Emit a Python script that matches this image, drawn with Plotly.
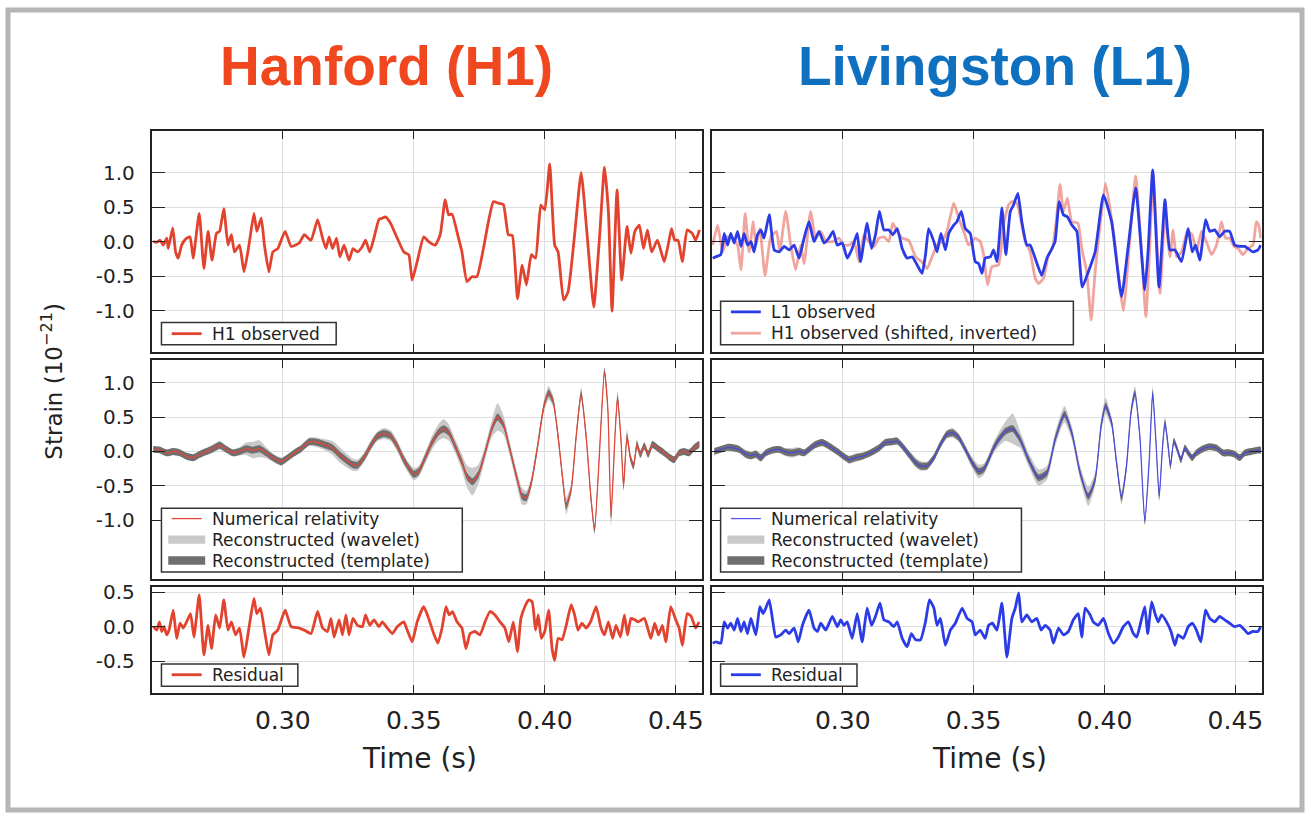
import plotly.graph_objects as go

# ------------------------------------------------------------------ data (time in ms, strain in 1e-21)
h1_obs_t = [250.6,251.9,253.2,254.4,255.7,256.3,258.0,259.1,260.1,261.4,263.0,264.6,265.8,268.1,269.9,271.5,273.0,274.7,275.9,277.5,
            279.1,280.4,281.6,283.5,285.2,287.1,289.0,290.1,291.8,293.0,294.7,296.2,298.1,300.9,303.2,306.3,308.2,310.8,313.3,315.2,
            316.5,317.7,319.0,320.5,321.8,323.4,325.3,326.8,328.5,330.4,331.6,333.2,334.8,336.7,338.0,339.2,341.1,343.7,346.2,348.1,
            349.4,351.3,353.8,355.7,358.2,360.1,362.0,363.3,364.6,367.1,368.4,370.3,372.2,374.1,376.6,378.5,380.4,382.3,384.2,386.1,
            387.6,389.6,391.4,393.0,394.9,396.5,398.5,400.0,401.9,403.8,405.1,407.2,408.9,411.4,413.9,416.5,418.7,420.9,422.8,424.3,
            425.7,427.6,429.4,431.4,432.9,434.4,436.1,437.7,439.2,440.8,443.0,445.6,447.1,448.4,449.6,450.9,452.5,454.4,456.3,457.6,459.1]
h1_obs = [0.00,-0.01,0.02,-0.05,0.05,-0.10,0.20,-0.15,-0.24,-0.05,0.04,0.07,-0.24,0.41,-0.39,0.15,-0.27,0.12,0.15,0.48,
          -0.05,0.10,-0.15,-0.05,-0.44,-0.05,0.41,0.15,0.34,-0.05,-0.44,-0.15,-0.10,0.15,-0.07,-0.02,0.10,0.02,0.32,0.05,
          -0.10,0.07,-0.10,0.05,-0.22,-0.05,-0.27,-0.10,-0.15,-0.07,0.02,-0.15,0.05,0.32,0.34,0.36,0.27,0.05,-0.15,-0.19,
          -0.56,-0.29,0.07,0.00,-0.05,0.10,0.61,0.39,0.40,0.05,-0.15,-0.58,-0.51,-0.51,-0.10,0.29,0.58,0.56,0.54,0.10,
          0.09,-0.83,-0.34,-0.63,-0.19,-0.24,0.53,0.46,1.13,-0.05,-0.15,-0.85,-0.73,0.10,1.00,-0.05,-0.95,0.05,1.08,0.44,
          -1.01,0.75,-0.56,0.22,-0.17,0.15,0.24,-0.10,0.17,-0.15,0.02,-0.29,-0.05,0.19,0.02,0.02,-0.29,0.17,0.12,0.02,0.17]

l1_obs_t = [250.3,251.5,253.4,254.7,256.0,257.2,258.5,259.8,261.1,262.3,263.6,264.9,266.1,267.4,268.7,269.9,271.9,273.8,275.7,277.6,
            279.5,281.4,283.3,285.2,287.1,289.0,290.9,292.8,294.7,296.3,297.9,299.8,301.7,303.6,305.5,306.8,309.3,311.0,312.5,314.0,
            315.7,317.6,319.1,320.8,322.7,324.6,326.5,328.4,330.3,331.6,332.8,334.8,336.0,337.5,339.2,340.5,342.4,343.6,345.3,346.8,
            348.7,350.6,351.9,353.2,354.4,356.4,357.6,358.9,360.8,362.3,364.0,365.2,366.9,368.4,370.3,371.6,373.5,376.0,378.0,379.9,
            381.1,382.7,384.3,385.8,387.5,389.4,391.5,393.8,396.4,399.6,402.7,406.5,409.1,411.9,415.4,416.7,418.4,420.8,423.1,425.0,
            426.9,429.4,432.0,433.5,434.8,436.4,438.6,440.2,442.1,444.0,445.9,447.8,449.7,451.7,453.6,454.8,456.7,458.6,459.7]
l1_obs = [-0.24,-0.22,-0.19,0.12,-0.05,0.12,-0.02,0.15,-0.07,0.12,-0.05,0.00,-0.15,0.10,0.17,0.05,0.39,-0.12,-0.15,-0.07,
          -0.12,-0.05,-0.24,0.05,0.29,0.00,0.15,-0.02,0.05,0.15,-0.05,-0.02,-0.24,-0.10,0.12,-0.29,0.27,-0.10,0.10,0.44,
          0.17,0.17,0.10,0.19,-0.10,-0.24,-0.22,-0.34,-0.46,-0.19,0.19,0.00,-0.15,0.12,-0.12,0.12,0.24,0.29,0.44,0.19,
          0.12,-0.29,-0.32,-0.46,-0.24,-0.22,-0.12,-0.29,0.49,-0.19,0.44,0.53,0.70,0.29,-0.05,-0.05,-0.24,-0.49,-0.24,-0.10,
          0.00,0.58,0.39,0.36,0.24,0.15,-0.66,-0.44,-0.15,0.68,0.29,-0.80,-0.05,0.78,-0.70,-0.10,1.04,-0.66,0.61,-0.12,
          -0.12,-0.29,0.19,-0.15,-0.05,-0.27,0.32,0.15,0.17,0.07,0.15,0.15,-0.05,-0.07,-0.07,-0.10,-0.15,-0.12,-0.05]

h1_shift_t = [250.3,252.2,254.1,256.0,257.9,259.8,261.1,262.7,264.2,265.8,266.8,268.3,270.3,272.5,274.7,275.9,278.2,280.1,282.0,283.9,
              285.2,287.7,289.6,291.6,293.5,296.0,298.5,300.4,302.4,304.3,306.2,308.1,310.0,311.9,313.8,315.7,317.6,319.1,320.8,322.7,
              325.2,327.8,330.1,332.2,334.1,336.0,337.9,339.8,342.4,344.3,346.2,348.1,350.6,352.5,353.8,355.3,357.0,359.5,361.4,363.3,
              364.6,366.5,368.4,369.7,371.6,373.5,374.8,376.7,378.6,380.1,381.8,383.0,384.3,385.8,387.5,389.8,391.3,393.2,394.9,396.4,
              398.3,400.4,403.4,407.2,409.7,411.9,414.2,415.8,417.3,418.6,421.2,423.1,425.0,426.2,427.5,429.4,431.7,433.5,435.1,437.0,
              438.9,440.9,442.8,444.7,446.2,447.8,449.5,451.0,452.9,454.8,456.7,458.0,458.9,459.7]
h1_shift = [-0.05,0.24,-0.15,0.07,0.05,-0.05,-0.41,0.41,-0.15,0.29,-0.05,0.19,-0.49,0.07,0.15,-0.15,0.44,-0.05,-0.41,-0.05,
            -0.32,0.44,0.05,0.15,0.00,0.00,0.05,-0.05,-0.05,0.00,-0.29,0.10,0.00,-0.07,0.05,0.07,0.00,0.27,0.15,0.05,
            0.02,-0.22,-0.29,-0.39,-0.22,-0.05,0.00,0.15,0.56,0.34,0.15,-0.05,0.05,0.00,-0.19,-0.63,-0.36,-0.34,0.24,0.53,
            0.58,0.56,0.24,0.00,-0.15,-0.53,-0.61,-0.53,-0.19,-0.10,0.39,0.83,0.44,0.63,0.29,0.27,-0.10,-0.44,-1.14,-0.44,
            0.24,0.85,0.15,-1.00,0.05,0.95,-0.19,-1.09,-0.05,0.97,-0.75,0.39,-0.22,0.17,-0.22,-0.15,0.15,0.10,-0.15,0.15,
            0.00,-0.19,-0.05,0.29,0.05,0.05,-0.07,-0.10,-0.19,-0.10,-0.05,0.29,0.24,0.05]

h1_nr_t = [250.6,253.2,255.7,258.2,260.8,263.3,265.8,268.4,270.9,273.4,275.9,278.5,281.0,283.5,286.1,288.6,291.1,293.7,296.2,299.4,
           301.9,304.4,307.0,310.1,313.3,315.8,319.0,321.5,324.7,326.6,328.5,331.0,333.5,336.1,338.6,341.1,343.7,346.2,
           348.1,350.0,351.9,354.4,357.0,359.5,361.4,363.3,365.8,368.4,370.3,372.4,374.7,377.2,379.7,382.0,384.2,386.7,389.2,391.4,
           393.0,394.9,397.5,399.7,401.5,403.2,405.1,407.0,408.2,410.1,412.0,413.9,415.8,417.7,419.0,420.9,422.8,424.1,425.3,426.8,
           427.8,429.1,430.1,431.4,432.7,433.9,435.2,436.5,438.0,439.5,441.1,443.0,445.6,447.5,449.4,451.3,453.2,455.1,457.0,458.9]
h1_nr = [0.03,0.02,-0.02,0.00,-0.02,-0.07,-0.09,-0.04,0.00,0.04,0.09,0.03,-0.02,0.00,0.04,0.02,0.04,-0.02,-0.09,-0.15,
         -0.09,-0.02,0.04,0.14,0.13,0.10,0.05,-0.04,-0.14,-0.19,-0.20,-0.09,0.08,0.22,0.26,0.23,0.08,-0.12,
         -0.24,-0.33,-0.29,-0.09,0.13,0.28,0.33,0.28,0.08,-0.16,-0.36,-0.44,-0.33,-0.02,0.32,0.50,0.39,0.03,-0.36,-0.65,
         -0.67,-0.45,0.13,0.66,0.85,0.73,0.22,-0.45,-0.79,-0.55,0.22,0.83,0.22,-0.70,-1.13,-0.02,1.16,0.61,-0.94,0.22,
         0.78,0.17,-0.50,0.22,-0.09,-0.21,0.10,-0.04,0.08,-0.04,0.10,0.05,-0.02,-0.08,-0.12,-0.02,0.00,-0.02,0.05,0.10]
h1_wavelet_hw = [0.04,0.04,0.05,0.05,0.05,0.05,0.05,0.05,0.05,0.06,0.06,0.05,0.05,0.06,0.09,0.12,0.12,0.08,0.06,0.06,
                 0.05,0.05,0.05,0.06,0.07,0.08,0.10,0.11,0.10,0.09,0.08,0.07,0.07,0.07,0.08,0.08,0.08,0.08,
                 0.08,0.09,0.08,0.08,0.10,0.12,0.14,0.12,0.10,0.12,0.16,0.20,0.14,0.10,0.12,0.20,0.14,0.10,0.10,0.12,
                 0.10,0.08,0.08,0.08,0.10,0.08,0.07,0.08,0.12,0.08,0.07,0.10,0.07,0.07,0.08,0.06,0.06,0.06,0.15,0.06,
                 0.10,0.06,0.08,0.10,0.06,0.06,0.08,0.06,0.05,0.05,0.05,0.04,0.04,0.04,0.04,0.04,0.04,0.04,0.04,0.04]
h1_template_hw = 0.05

l1_nr_t = [250.9,253.4,256.0,258.5,260.4,263.0,264.9,266.8,268.7,270.6,273.1,275.7,278.2,280.7,283.3,285.2,287.1,289.6,292.2,294.7,
           297.9,301.1,302.4,304.9,307.4,310.6,313.8,316.3,318.9,320.8,322.7,325.2,327.8,329.7,332.2,334.8,337.3,339.8,342.0,344.3,
           346.8,349.4,351.9,353.8,355.7,357.6,359.5,362.1,364.9,367.8,371.0,374.8,378.0,381.1,384.7,387.5,390.7,393.8,396.4,398.7,
           400.4,402.7,404.6,406.5,408.4,410.1,411.6,413.5,415.4,417.1,418.4,419.6,420.9,422.0,423.1,424.3,425.2,426.5,427.8,429.2,
           430.7,432.0,433.5,435.1,437.7,440.2,442.8,445.3,447.8,449.7,451.7,453.6,456.1,458.6,459.7]
l1_nr = [0.00,0.03,0.06,0.05,0.03,-0.04,-0.06,-0.04,-0.09,-0.02,0.02,0.03,-0.01,-0.02,0.00,-0.02,0.03,0.10,0.13,0.08,
         0.00,-0.09,-0.12,-0.09,-0.07,-0.02,0.05,0.13,0.14,0.15,0.08,-0.04,-0.16,-0.21,-0.21,-0.09,0.10,0.25,0.27,0.20,
         0.03,-0.16,-0.29,-0.26,-0.12,0.05,0.17,0.29,0.33,0.17,-0.12,-0.38,-0.31,0.17,0.54,0.27,-0.31,-0.65,-0.41,0.37,
         0.66,0.42,-0.16,-0.67,-0.21,0.56,0.85,0.22,-1.01,-0.12,0.85,0.17,-0.65,-0.02,0.42,0.08,-0.21,0.15,0.03,-0.12,
         0.05,-0.02,-0.09,-0.02,0.04,0.07,0.05,-0.02,-0.02,-0.04,-0.09,-0.02,0.00,0.02,0.02]
l1_wavelet_hw = [0.04,0.04,0.05,0.05,0.05,0.06,0.06,0.06,0.06,0.05,0.05,0.05,0.06,0.07,0.06,0.05,0.05,0.05,0.05,0.05,
                 0.05,0.05,0.06,0.06,0.05,0.05,0.05,0.05,0.05,0.05,0.05,0.06,0.07,0.07,0.06,0.05,0.05,0.06,0.07,0.06,
                 0.06,0.08,0.10,0.08,0.07,0.08,0.10,0.14,0.22,0.12,0.10,0.12,0.10,0.10,0.12,0.10,0.10,0.14,0.10,0.10,
                 0.12,0.08,0.08,0.10,0.08,0.08,0.10,0.06,0.06,0.06,0.10,0.06,0.08,0.06,0.08,0.06,0.06,0.05,0.05,0.05,
                 0.04,0.04,0.04,0.04,0.04,0.04,0.04,0.04,0.04,0.04,0.04,0.04,0.04,0.04,0.04]
l1_template_hw = 0.05

h1_res_t = [250.6,251.9,252.9,253.8,254.7,255.7,256.6,258.2,259.5,260.8,262.0,263.3,264.8,266.1,268.1,269.9,271.5,272.8,274.4,275.9,
            277.5,279.1,280.4,282.0,283.5,285.2,287.1,289.0,290.1,291.5,293.0,294.7,296.2,298.1,300.9,303.2,306.3,308.2,310.8,313.3,
            315.2,317.1,318.4,319.6,321.5,322.8,324.1,325.3,326.8,328.5,330.4,331.6,333.2,334.8,336.7,338.0,339.9,341.8,343.7,346.2,
            347.5,349.4,351.3,353.8,355.7,357.6,359.2,360.8,362.3,363.5,364.8,366.5,368.4,369.9,371.5,373.4,375.3,377.2,379.1,381.0,
            382.9,384.8,386.3,388.0,389.6,390.9,392.4,393.9,395.2,396.5,397.5,398.7,400.0,401.5,402.8,403.8,405.1,406.6,408.2,410.1,
            411.4,412.7,414.2,415.8,417.5,419.6,421.5,422.8,424.3,425.9,427.2,428.9,430.4,431.6,432.9,434.4,435.7,438.0,439.5,440.5,
            442.0,443.4,444.9,446.2,448.1,450.0,451.3,452.5,454.4,455.9,457.6,458.9]
h1_res = [0.00,-0.05,0.07,-0.07,0.00,-0.12,-0.05,0.24,-0.17,0.05,-0.02,0.07,0.19,-0.15,0.46,-0.41,0.02,-0.32,0.17,-0.02,
          0.39,-0.05,0.07,-0.12,-0.02,-0.44,-0.02,0.41,0.19,0.27,-0.05,-0.41,-0.12,-0.05,0.24,0.00,-0.02,-0.05,-0.10,0.22,
          -0.02,-0.07,0.12,-0.15,0.10,-0.12,0.17,-0.12,0.12,0.02,0.00,0.17,0.02,0.10,0.00,0.07,-0.02,-0.10,0.00,0.07,
          -0.05,-0.22,0.07,0.29,0.12,-0.10,-0.24,-0.02,0.29,0.17,0.22,0.07,-0.02,-0.32,-0.10,-0.07,-0.12,0.07,0.22,0.17,
          0.07,-0.02,-0.22,0.07,-0.36,0.12,0.29,0.39,0.36,-0.05,0.17,-0.17,-0.07,0.24,-0.32,-0.49,-0.17,-0.19,0.02,0.32,
          0.17,-0.05,0.05,-0.02,0.07,0.29,-0.02,-0.12,0.07,-0.17,0.02,-0.15,0.17,-0.12,0.12,0.10,0.07,0.12,-0.05,-0.17,
          0.05,-0.12,0.02,-0.22,0.29,0.10,-0.02,-0.27,0.19,0.15,-0.02,0.07]

l1_res_t = [250.3,251.5,253.4,254.7,256.0,257.2,258.5,259.8,261.1,262.3,263.6,264.9,266.8,268.3,269.6,270.6,271.9,273.1,274.4,276.3,
            278.2,279.5,281.4,283.0,284.6,287.1,289.0,290.3,291.6,293.5,296.0,297.9,299.2,300.4,301.7,303.6,305.5,307.4,309.3,311.0,
            312.5,314.2,315.7,317.6,319.5,320.8,322.7,324.6,326.2,327.8,329.7,331.6,333.1,334.8,336.0,337.3,339.2,341.1,343.0,345.6,
            347.5,349.4,350.6,352.5,354.4,355.7,357.2,358.9,360.8,362.7,364.6,365.9,367.2,368.4,370.3,372.2,374.1,375.8,377.3,379.2,
            380.5,382.4,384.3,386.2,388.1,390.0,391.3,392.6,394.5,395.7,397.6,399.6,401.5,403.4,405.3,407.2,409.1,411.0,412.3,414.2,
            415.4,416.5,418.0,419.3,420.5,421.8,423.7,425.4,426.9,428.1,430.1,432.0,433.5,435.1,436.8,438.6,440.2,442.1,444.0,445.9,
            447.8,449.7,451.7,453.6,454.8,456.7,458.6,459.7]
l1_res = [-0.24,-0.22,-0.24,0.07,-0.02,0.05,-0.05,0.12,-0.07,0.07,-0.10,0.12,-0.12,0.29,0.19,0.27,0.39,0.12,-0.15,-0.12,
          -0.05,-0.10,-0.02,-0.22,0.02,0.24,-0.02,-0.07,0.05,-0.05,0.15,0.00,0.10,0.02,0.07,-0.17,0.19,-0.22,0.27,0.02,
          0.15,0.34,0.10,0.07,0.00,0.07,-0.17,-0.29,-0.10,-0.19,-0.19,0.07,0.39,0.27,0.02,0.12,-0.27,-0.05,0.05,0.27,
          0.12,0.07,-0.12,-0.05,-0.17,0.02,0.05,-0.05,0.34,-0.44,0.12,0.27,0.49,0.07,0.17,0.07,0.12,-0.05,0.02,-0.05,
          -0.24,-0.02,-0.12,-0.07,0.10,0.19,-0.15,0.27,0.17,0.07,0.02,0.12,-0.10,-0.24,-0.15,0.00,0.07,-0.10,-0.15,0.12,
          0.29,-0.10,0.36,0.19,0.07,0.17,0.07,-0.07,-0.27,-0.12,-0.17,0.00,0.05,-0.05,-0.22,0.24,0.12,0.07,0.15,0.10,
          0.05,0.00,0.02,-0.05,-0.10,-0.07,-0.07,0.00]

x_ticks = [0.30, 0.35, 0.40, 0.45]
x_ticklabels = ["0.30", "0.35", "0.40", "0.45"]
y_ticks_main = [-1.0, -0.5, 0.0, 0.5, 1.0]
y_ticklabels_main = ["-1.0", "-0.5", "0.0", "0.5", "1.0"]
y_ticks_res = [-0.5, 0.0, 0.5]
y_ticklabels_res = ["-0.5", "0.0", "0.5"]

# ------------------------------------------------------------------ styling
W, H = 1311, 817
RED = "#e2432f"
BLUE = "#2b3ce6"
PINK = "rgba(232,110,100,0.62)"
NR_RED = "#e0483a"
NR_BLUE = "rgba(70,70,225,0.9)"
LGRAY = "#c9c9c9"
DGRAY = "#6f6f6f"
FONT = "DejaVu Sans"
LW = 2.8


def px(x):
    return x / W


def py(y):
    return 1 - y / H


def sec(ms):
    return [v / 1000.0 for v in ms]


def band(t_ms, center, hw):
    if isinstance(hw, (int, float)):
        hw = [hw] * len(center)
    up = [c + w for c, w in zip(center, hw)]
    lo = [c - w for c, w in zip(center, hw)]
    ts = sec(t_ms)[:len(up)]
    return ts + ts[::-1], up + lo[::-1]


def ax(i):
    return ("x" if i == 1 else f"x{i}"), ("y" if i == 1 else f"y{i}")


fig = go.Figure()
SMOOTH = dict(shape="spline", smoothing=0.45)

xa, ya = ax(1)
fig.add_trace(go.Scatter(x=sec(h1_obs_t), y=h1_obs, mode="lines", line=dict(color=RED, width=LW, **SMOOTH),
                         name="H1 observed", xaxis=xa, yaxis=ya))

xa, ya = ax(2)
fig.add_trace(go.Scatter(x=sec(h1_shift_t), y=h1_shift, mode="lines", line=dict(color=PINK, width=LW, **SMOOTH),
                         name="H1 observed (shifted, inverted)", xaxis=xa, yaxis=ya))
fig.add_trace(go.Scatter(x=sec(l1_obs_t), y=l1_obs, mode="lines", line=dict(color=BLUE, width=LW, **SMOOTH),
                         name="L1 observed", xaxis=xa, yaxis=ya))


def middle(idx, t_ms, nr, whw, thw, nrcolor):
    xa, ya = ax(idx)
    for hw, col, nm in ((whw, LGRAY, "Reconstructed (wavelet)"), (thw, DGRAY, "Reconstructed (template)")):
        bx, by = band(t_ms, nr, hw)
        fig.add_trace(go.Scatter(x=bx, y=by, mode="lines", fill="toself", fillcolor=col,
                                 line=dict(width=0, shape="spline", smoothing=0.6), hoverinfo="skip",
                                 name=nm, xaxis=xa, yaxis=ya))
    fig.add_trace(go.Scatter(x=sec(t_ms), y=nr, mode="lines",
                             line=dict(color=nrcolor, width=1.3, shape="spline", smoothing=0.6),
                             name="Numerical relativity", xaxis=xa, yaxis=ya))


middle(3, h1_nr_t, h1_nr, h1_wavelet_hw, h1_template_hw, NR_RED)
middle(4, l1_nr_t, l1_nr, l1_wavelet_hw, l1_template_hw, NR_BLUE)

xa, ya = ax(5)
fig.add_trace(go.Scatter(x=sec(h1_res_t), y=h1_res, mode="lines", line=dict(color=RED, width=LW, **SMOOTH),
                         name="Residual", xaxis=xa, yaxis=ya))
xa, ya = ax(6)
fig.add_trace(go.Scatter(x=sec(l1_res_t), y=l1_res, mode="lines", line=dict(color=BLUE, width=LW, **SMOOTH),
                         name="Residual", xaxis=xa, yaxis=ya))

# ------------------------------------------------------------------ axes
cols = [[152 / W, 703 / W], [713 / W, 1263.5 / W]]
rows = [[py(348.3), py(125)], [py(577.3), py(356)], [py(692.3), py(585)]]
yranges = [[-1.607, 1.607], [-1.856, 1.328], [-0.968, 0.576]]

layout = {}
for r in range(3):
    for c in range(2):
        i = r * 2 + c + 1
        xk = "xaxis" if i == 1 else f"xaxis{i}"
        yk = "yaxis" if i == 1 else f"yaxis{i}"
        common = dict(showline=True, linecolor="#222", linewidth=2, mirror="ticks", ticks="inside",
                      tickcolor="#222", tickwidth=1.4, showgrid=True, gridcolor="#dedede", gridwidth=1,
                      zeroline=False, fixedrange=True)
        layout[xk] = dict(common, domain=cols[c], anchor=("y" if i == 1 else f"y{i}"), range=[0.25, 0.46],
                          tickmode="array", tickvals=x_ticks, ticktext=x_ticklabels, ticklen=8,
                          showticklabels=(r == 2), tickfont=dict(family=FONT, size=25, color="#222"),
                          ticklabelstandoff=4)
        yt = y_ticks_res if r == 2 else y_ticks_main
        ytl = y_ticklabels_res if r == 2 else y_ticklabels_main
        layout[yk] = dict(common, domain=rows[r], anchor=("x" if i == 1 else f"x{i}"), range=yranges[r],
                          tickmode="array", tickvals=yt, ticktext=ytl, ticklen=13,
                          showticklabels=(c == 0), tickfont=dict(family=FONT, size=20, color="#222"),
                          ticklabelstandoff=11)

# ------------------------------------------------------------------ legends (boxes drawn in paper space)
shapes = [
    dict(type="rect", xref="paper", yref="paper", x0=px(8), x1=px(1304), y0=py(810), y1=py(3),
         line=dict(color="#b5b5b5", width=5), layer="below"),
]
annotations = []
LEG_FONT = dict(family=FONT, size=17, color="#222")


def legend_box(x0, y0, x1, y1, items, sample_x0, text_x):
    shapes.append(dict(type="rect", xref="paper", yref="paper", x0=px(x0), x1=px(x1), y0=py(y1), y1=py(y0),
                       line=dict(color="#333", width=1.5), fillcolor="white", layer="above"))
    for label, kind, color, width, yc in items:
        if kind == "line":
            shapes.append(dict(type="line", xref="paper", yref="paper", x0=px(sample_x0), x1=px(sample_x0 + 30),
                               y0=py(yc), y1=py(yc), line=dict(color=color, width=width), layer="above"))
        else:
            shapes.append(dict(type="rect", xref="paper", yref="paper", x0=px(sample_x0 - 3.5),
                               x1=px(sample_x0 + 33.5), y0=py(yc + 4.2), y1=py(yc - 4.2),
                               line=dict(width=0), fillcolor=color, layer="above"))
        annotations.append(dict(text=label, x=px(text_x), y=py(yc), xref="paper", yref="paper",
                                xanchor="left", yanchor="middle", showarrow=False, font=LEG_FONT))


legend_box(161.7, 318.3, 336.7, 340.7, [("H1 observed", "line", RED, LW, 329.5)], 172, 210)
legend_box(721.7, 296.7, 1075, 340.7, [("L1 observed", "line", BLUE, LW, 307.5),
                                       ("H1 observed (shifted, inverted)", "line", PINK, LW, 329.0)], 732, 770)
for lx, nrc in ((161.7, NR_RED), (721.7, NR_BLUE)):
    legend_box(lx, 505.7, lx + 301.3, 570, [("Numerical relativity", "line", nrc, 1.3, 516.0),
                                            ("Reconstructed (wavelet)", "rect", LGRAY, 0, 537.3),
                                            ("Reconstructed (template)", "rect", DGRAY, 0, 558.3)],
               lx + 10.3, lx + 48.3)
legend_box(161.7, 662.7, 298.3, 685, [("Residual", "line", RED, LW, 673.5)], 172, 210)
legend_box(721.7, 662.7, 858.3, 685, [("Residual", "line", BLUE, LW, 673.5)], 732, 770)

annotations += [
    dict(text="Hanford (H1)", x=px(387), y=py(60), xref="paper", yref="paper", showarrow=False,
         xanchor="center", yanchor="middle",
         font=dict(family="Liberation Sans", size=55, color="#f1471f", weight="bold")),
    dict(text="Livingston (L1)", x=px(997), y=py(60), xref="paper", yref="paper", showarrow=False,
         xanchor="center", yanchor="middle",
         font=dict(family="Liberation Sans", size=55, color="#0f70c0", weight="bold")),
    dict(text="Strain (10<sup>\u221221</sup>)", x=px(52), y=py(377), xref="paper", yref="paper",
         xanchor="center", yanchor="middle",
         showarrow=False, textangle=-90, font=dict(family=FONT, size=23, color="#222")),
    dict(text="Time (s)", x=px(420), y=py(758), xref="paper", yref="paper", showarrow=False,
         xanchor="center", yanchor="middle", font=dict(family=FONT, size=28, color="#222")),
    dict(text="Time (s)", x=px(991), y=py(758), xref="paper", yref="paper", showarrow=False,
         xanchor="center", yanchor="middle", font=dict(family=FONT, size=28, color="#222")),
]

fig.update_layout(width=W, height=H, margin=dict(l=0, r=0, t=0, b=0), paper_bgcolor="white",
                  plot_bgcolor="white", showlegend=False, annotations=annotations, shapes=shapes, **layout)

fig.write_html("out.html")
